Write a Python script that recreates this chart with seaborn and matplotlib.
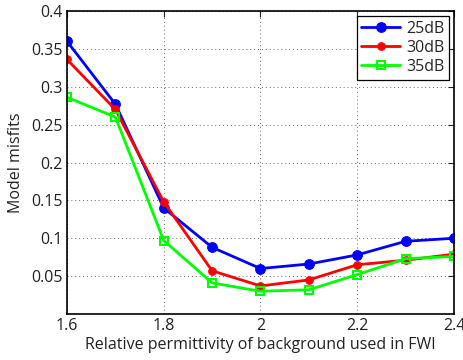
import matplotlib
matplotlib.use("Agg")
import matplotlib.pyplot as plt
import seaborn as sns
import pandas as pd

permittivity = [1.6, 1.7, 1.8, 1.9, 2.0, 2.1, 2.2, 2.3, 2.4]
misfit_25dB = [0.360, 0.277, 0.140, 0.088, 0.060, 0.066, 0.078, 0.096, 0.100]
misfit_30dB = [0.336, 0.270, 0.148, 0.057, 0.037, 0.045, 0.065, 0.071, 0.079]
misfit_35dB = [0.286, 0.260, 0.097, 0.041, 0.030, 0.032, 0.052, 0.073, 0.076]
series_names = ["25dB", "30dB", "35dB"]
x_ticks = [1.6, 1.8, 2.0, 2.2, 2.4]
x_tick_labels = ["1.6", "1.8", "2", "2.2", "2.4"]
y_ticks = [0.05, 0.1, 0.15, 0.2, 0.25, 0.3, 0.35, 0.4]
y_tick_labels = ["0.05", "0.1", "0.15", "0.2", "0.25", "0.3", "0.35", "0.4"]

sns.set_style("white")
plt.rcParams['font.family'] = ['Open Sans', 'DejaVu Sans']

fig = plt.figure(figsize=(4.64, 3.60), dpi=100)
ax = fig.add_axes([0.1444, 0.1278, 0.8340, 0.8416])

styles = [
    dict(color="#0000ff", marker="o", markersize=7, markerfacecolor="#0000ff", markeredgecolor="#0000ff"),
    dict(color="#ff0000", marker="o", markersize=5.5, markerfacecolor="#ff0000", markeredgecolor="#ff0000"),
    dict(color="#00ff00", marker="s", markersize=6, markerfacecolor="none", markeredgecolor="#00ff00", markeredgewidth=1.5),
]
for name, vals, st in zip(series_names, [misfit_25dB, misfit_30dB, misfit_35dB], styles):
    df = pd.DataFrame({"x": permittivity, "y": vals})
    sns.lineplot(data=df, x="x", y="y", ax=ax, label=name, linewidth=2, **st)

fs = 11.5
ax.set_xlim(1.6, 2.4)
ax.set_ylim(0.0, 0.4)
ax.set_xticks(x_ticks)
ax.set_xticklabels(x_tick_labels)
ax.set_yticks(y_ticks)
ax.set_yticklabels(y_tick_labels)
ax.grid(True, linestyle=(0, (1, 3)), color="#666666", linewidth=0.7)
ax.tick_params(direction="in", length=4, width=0.8, top=True, right=True,
               labelsize=fs, colors="#222222", pad=3)
for sp in ax.spines.values():
    sp.set_visible(True)
    sp.set_color("black")
    sp.set_linewidth(1.2)
ax.set_xlabel("Relative permittivity of background used in FWI", fontsize=fs, color="#222222", labelpad=2)
ax.set_ylabel("Model misfits", fontsize=fs, color="#222222", labelpad=5)

leg = ax.legend(loc="upper right", fontsize=fs, frameon=True, fancybox=False,
                edgecolor="black", framealpha=1, handlelength=2.4, borderpad=0.3,
                labelspacing=0.2, handletextpad=0.4, borderaxespad=0.3)
leg.get_frame().set_linewidth(0.9)

fig.savefig("out.png", dpi=100)
